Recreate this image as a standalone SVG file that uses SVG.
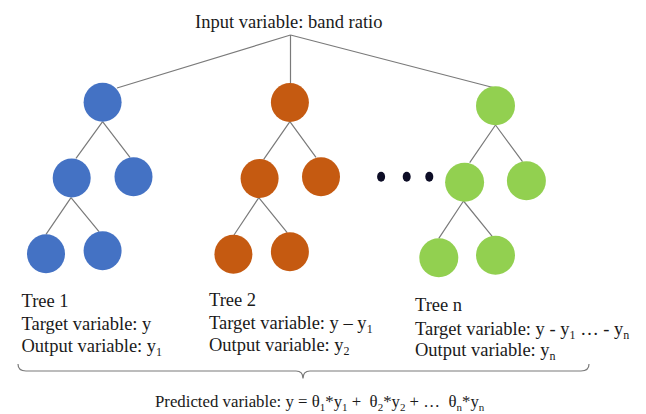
<svg xmlns="http://www.w3.org/2000/svg" width="646" height="414" viewBox="0 0 646 414">
<style>
.t{font-family:"Liberation Serif","Times New Roman",serif;font-size:18.5px;fill:#1a1a1a;white-space:pre}
.p{font-size:16.8px}
.s{font-size:12px}
.s2{font-size:11px}
.e{stroke:#7a7a7a;stroke-width:1.2;fill:none}
.b{fill:#4472C4}
.o{fill:#C55A11}
.g{fill:#92D050}
.d{fill:#0d0d26}
</style>
<rect width="646" height="414" fill="#ffffff"/>
<text class="t" x="195" y="28">Input variable: band ratio</text>
<g id="connectors">
<path class="e" d="M290.5,35 L117,88 M290.5,35 L290.5,83.5 M290.5,35 L493,87.5"/>
<path class="e" d="M102.6,121.7 L76,158.3 M102.6,121.7 L130,157.3 M71,197.7 L46,234.3 M71,197.7 L99,231.7"/>
<path class="e" d="M289.9,121.7 L263.7,159.3 M289.9,121.7 L316,157.3 M258.8,197.7 L234,235 M258.8,197.7 L287.2,232.7"/>
<path class="e" d="M495.5,125 L469.7,162.7 M495.5,125 L522.5,161.7 M463.5,201 L438.8,238.3 M463.5,201 L492.4,236.7"/>
<path class="e" d="M18,364 Q18,371 26,371 L296,371 Q303,371 303,378.5 Q303,371 310,371 L581,371 Q589,371 589,364"/>
</g>
<g id="tree1">
<ellipse id="t1n0" class="b" cx="102.6" cy="102.3" rx="19" ry="19.5"/>
<ellipse id="t1n1" class="b" cx="71.7" cy="178" rx="19" ry="19.5"/>
<ellipse id="t1n2" class="b" cx="133.5" cy="176.7" rx="19" ry="19.5"/>
<ellipse id="t1n3" class="b" cx="46" cy="253.8" rx="19" ry="19.5"/>
<ellipse id="t1n4" class="b" cx="102.6" cy="250.8" rx="19" ry="19.5"/>
</g>
<g id="tree2">
<ellipse id="t2n0" class="o" cx="289.9" cy="102.5" rx="19" ry="19.5"/>
<ellipse id="t2n1" class="o" cx="259.6" cy="178.5" rx="19" ry="19.5"/>
<ellipse id="t2n2" class="o" cx="321" cy="176.7" rx="19" ry="19.5"/>
<ellipse id="t2n3" class="o" cx="233.4" cy="254.2" rx="19" ry="19.5"/>
<ellipse id="t2n4" class="o" cx="289.9" cy="251.8" rx="19" ry="19.5"/>
</g>
<g id="dots">
<ellipse class="d" cx="381.1" cy="176.7" rx="4" ry="5"/>
<ellipse class="d" cx="406.7" cy="176.7" rx="4" ry="5"/>
<ellipse class="d" cx="429.3" cy="176.7" rx="4" ry="5"/>
</g>
<g id="treen">
<ellipse id="tnn0" class="g" cx="495.5" cy="105.8" rx="19.5" ry="19.5"/>
<ellipse id="tnn1" class="g" cx="464.6" cy="182.2" rx="19.5" ry="19.5"/>
<ellipse id="tnn2" class="g" cx="526.4" cy="180.8" rx="19.5" ry="19.5"/>
<ellipse id="tnn3" class="g" cx="438.8" cy="257.8" rx="19.5" ry="19.5"/>
<ellipse id="tnn4" class="g" cx="495.5" cy="255.2" rx="19.5" ry="19.5"/>
</g>
<g id="label1">
<text class="t" x="21.5" y="307">Tree 1</text>
<text class="t" x="21.5" y="330">Target variable: y</text>
<text class="t" x="21.5" y="352">Output variable: y<tspan class="s" dy="4">1</tspan></text>
</g>
<g id="label2">
<text class="t" x="209" y="306">Tree 2</text>
<text class="t" x="209" y="328.5">Target variable: y – y<tspan class="s" dy="4">1</tspan></text>
<text class="t" x="209" y="351">Output variable: y<tspan class="s" dy="4">2</tspan></text>
</g>
<g id="labeln">
<text class="t" x="415" y="311">Tree n</text>
<text class="t" x="415" y="334.5">Target variable: y - y<tspan class="s" dy="4">1</tspan><tspan dy="-4"> … - y</tspan><tspan class="s" dy="4">n</tspan></text>
<text class="t" x="415" y="356">Output variable: y<tspan class="s" dy="4">n</tspan></text>
</g>
<g id="predicted">
<text class="t p" x="155" y="407">Predicted variable: y = θ<tspan class="s2" dy="3.5">1</tspan><tspan dy="-3.5">*y</tspan><tspan class="s2" dy="3.5">1</tspan><tspan dy="-3.5"> +  θ</tspan><tspan class="s2" dy="3.5">2</tspan><tspan dy="-3.5">*y</tspan><tspan class="s2" dy="3.5">2</tspan><tspan dy="-3.5"> + …  θ</tspan><tspan class="s2" dy="3.5">n</tspan><tspan dy="-3.5">*y</tspan><tspan class="s2" dy="3.5">n</tspan></text>
</g>
</svg>
